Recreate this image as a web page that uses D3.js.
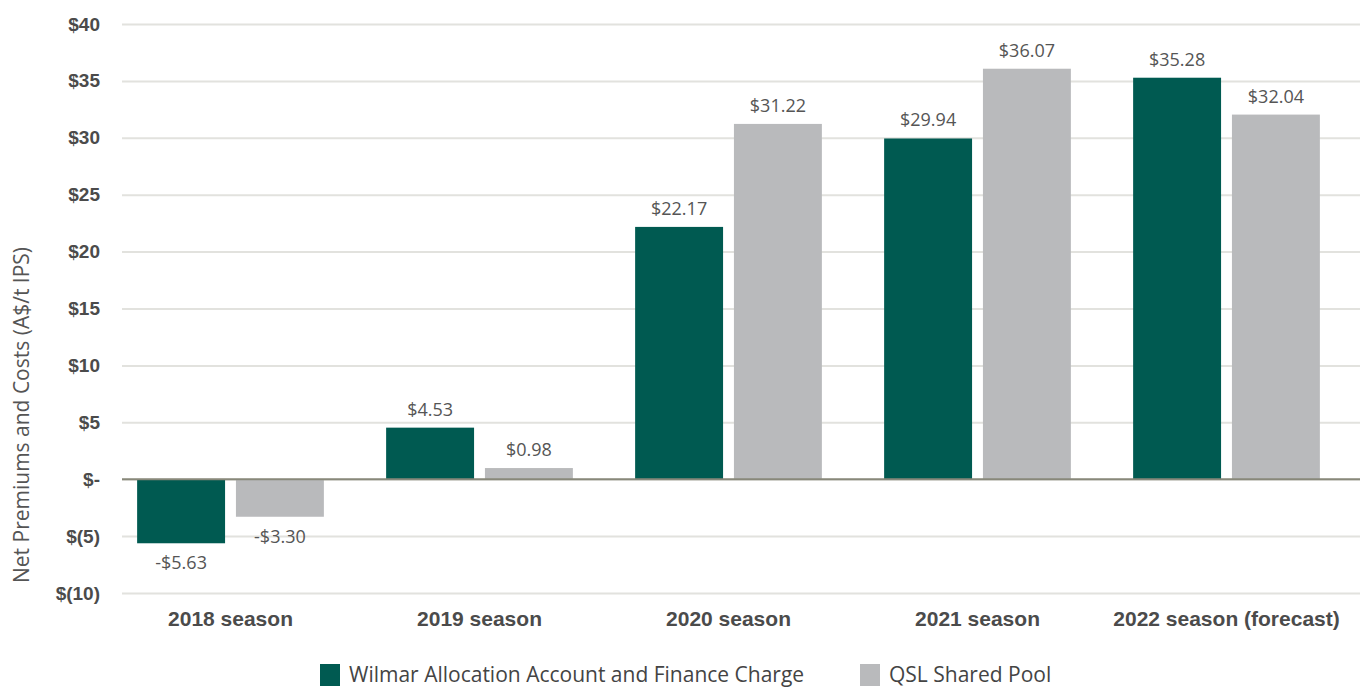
<!DOCTYPE html>
<html>
<head>
<meta charset="utf-8">
<script src="https://cdn.jsdelivr.net/npm/d3@7"></script>
<style>
  body { margin: 0; background: #fff; }
  svg { font-family: "Open Sans", "Noto Sans", sans-serif; }
</style>
</head>
<body>
<div id="chart"></div>
<script>
// DATA
const seasons = ["2018 season", "2019 season", "2020 season", "2021 season", "2022 season (forecast)"]
const seriesNames = ["Wilmar Allocation Account and Finance Charge", "QSL Shared Pool"]
const wilmar = [-5.63, 4.53, 22.17, 29.94, 35.28]
const qsl = [-3.30, 0.98, 31.22, 36.07, 32.04]
const yTicks = [-10, -5, 0, 5, 10, 15, 20, 25, 30, 35, 40]

const width = 1360, height = 688

const svg = d3.select("#chart")
  .append("svg")
    .attr("width", width)
    .attr("height", height)

// SCALES
const xScale = d3.scaleBand()
    .domain(seasons)
    .range([106, 1351])
    .paddingInner(0.25)
    .paddingOuter(0.125)

const xSub = d3.scaleBand()
    .domain(seriesNames)
    .range([0, xScale.bandwidth()])
    .paddingInner(0.11)

const yScale = d3.scaleLinear()
    .domain([-10, 40])
    .range([593, 24])

const color = d3.scaleOrdinal()
    .domain(seriesNames)
    .range(["#005a51", "#b9babc"])

const fmtTick = d => d === 0 ? "$-" : d < 0 ? `$(${-d})` : `$${d}`
const fmtVal = d => (d < 0 ? "-$" : "$") + Math.abs(d).toFixed(2)

// GRIDLINES + Y AXIS
const yAxis = svg.append("g")
    .attr("transform", "translate(122,0)")
    .call(d3.axisLeft(yScale)
      .tickValues(yTicks)
      .tickSize(-(width - 122))
      .tickPadding(22)
      .tickFormat(fmtTick))
yAxis.select(".domain").remove()
yAxis.selectAll(".tick line")
    .attr("stroke", "#e2e2de")
    .attr("stroke-width", 2)
yAxis.selectAll(".tick text")
    .attr("fill", "#4b4b4b")
    .attr("font-weight", "bold")
    .attr("font-size", "19px")

// BARS
const rows = seasons.map((s, i) => ({season: s, values: [
  {key: seriesNames[0], value: wilmar[i]},
  {key: seriesNames[1], value: qsl[i]}
]}))

const groups = svg.append("g")
  .selectAll("g")
  .data(rows)
  .join("g")
    .attr("transform", d => `translate(${xScale(d.season)},0)`)

groups.selectAll("rect")
  .data(d => d.values)
  .join("rect")
    .attr("x", d => xSub(d.key))
    .attr("y", d => yScale(Math.max(0, d.value)))
    .attr("width", xSub.bandwidth())
    .attr("height", d => Math.abs(yScale(d.value) - yScale(0)))
    .attr("fill", d => color(d.key))

// VALUE LABELS
groups.selectAll("text")
  .data(d => d.values)
  .join("text")
    .attr("x", d => xSub(d.key) + xSub.bandwidth() / 2)
    .attr("y", d => d.value >= 0 ? yScale(d.value) - 12 : yScale(d.value) + 26)
    .attr("text-anchor", "middle")
    .attr("font-size", "18px")
    .attr("fill", "#555")
    .text(d => fmtVal(d.value))

// ZERO LINE
svg.append("line")
    .attr("x1", 122)
    .attr("x2", width)
    .attr("y1", yScale(0))
    .attr("y2", yScale(0))
    .attr("stroke", "#88887a")
    .attr("stroke-width", 2)

// X AXIS LABELS
const xAxis = svg.append("g")
    .attr("transform", "translate(0,593)")
    .call(d3.axisBottom(xScale).tickSize(0).tickPadding(18))
xAxis.select(".domain").remove()
xAxis.selectAll("text")
    .attr("fill", "#4b4b4b")
    .attr("font-weight", "bold")
    .attr("font-size", "21px")

// Y TITLE
svg.append("text")
    .attr("transform", "translate(29,415) rotate(-90)")
    .attr("text-anchor", "middle")
    .attr("font-size", "21px")
    .attr("fill", "#555")
    .text("Net Premiums and Costs (A$/t IPS)")

// LEGEND
const legendX = [320, 860]
const legend = svg.append("g")
  .selectAll("g")
  .data(seriesNames)
  .join("g")
    .attr("transform", (d, i) => `translate(${legendX[i]},664)`)
legend.append("rect")
    .attr("width", 20)
    .attr("height", 22)
    .attr("fill", d => color(d))
legend.append("text")
    .attr("x", 29)
    .attr("y", 18)
    .attr("font-size", "21px")
    .attr("fill", "#444")
    .text(d => d)
</script>
</body>
</html>
